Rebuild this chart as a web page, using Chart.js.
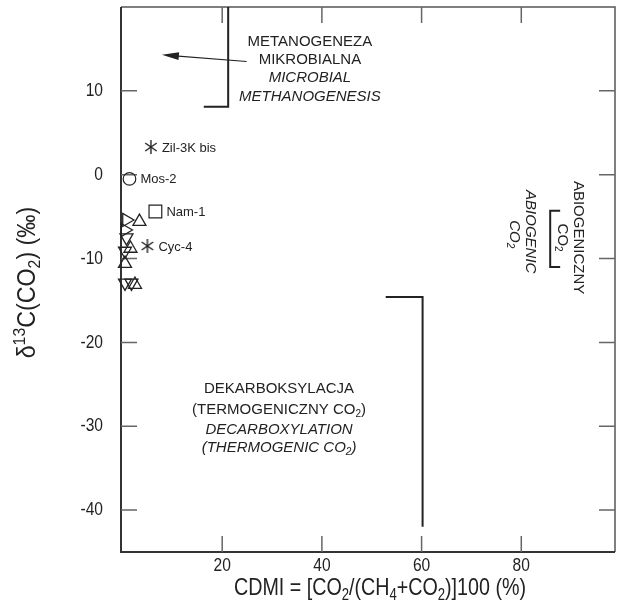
<!DOCTYPE html>
<html>
<head>
<meta charset="utf-8">
<script src="https://cdn.jsdelivr.net/npm/chart.js@4.4.1/dist/chart.umd.min.js"></script>
<style>
  html, body { margin: 0; padding: 0; background: #fff; }
  canvas { display: block; }
</style>
</head>
<body>
<canvas id="cdmiChart" width="618" height="605"></canvas>
<script>
// axis ranges and tick labels
const xRange = [-0.3, 98.8];
const yRange = [-45, 20];
const xTicks = [20, 40, 60, 80];
const yTicks = [10, 0, -10, -20, -30, -40];

// labelled samples
const sampleNames = ['Zil-3K bis', 'Mos-2', 'Nam-1', 'Cyc-4'];
const sampleX = [5.7, 1.4, 6.6, 5.0];
const sampleY = [3.3, -0.5, -4.4, -8.5];
const sampleMarker = ['asterisk', 'circle', 'rect', 'asterisk'];

// unlabelled triangles (rotation: 0 up, 90 right, 180 down)
const triX = [0.8, 3.4, 0.5, 0.8, 1.6, 0.5, 0.5, 0.5, 1.8, 2.5];
const triY = [-5.4, -5.6, -6.6, -7.5, -8.8, -9.1, -10.6, -12.9, -12.9, -13.1];
const triTurn = [90, 0, 90, 180, 0, 180, 0, 180, 180, 0];

// field boundaries (data units)
const microbialBracket = [[21.2, 20], [21.2, 8.1], [16.3, 8.1]];
const decarbBracket = [[52.8, -14.6], [60.2, -14.6], [60.2, -42.0]];
const abioBracket = [[87.8, -4.3], [85.8, -4.3], [85.8, -11.0], [87.8, -11.0]];
const microbialArrow = [[24.9, 13.5], [7.9, 14.3]];

const INK = '#222';
const SANS = '"Liberation Sans", Arial, sans-serif';
const NARROW = 0.82; // horizontal squeeze used for axis text

function makeAsterisk(r) {
  const c = document.createElement('canvas');
  c.width = c.height = 2 * r + 2;
  const g = c.getContext('2d');
  g.strokeStyle = INK;
  g.lineWidth = 1.4;
  g.translate(r + 1, r + 1);
  [90, 35, 145].forEach(a => {
    const t = a * Math.PI / 180;
    g.beginPath();
    g.moveTo(-r * Math.cos(t), -r * Math.sin(t));
    g.lineTo(r * Math.cos(t), r * Math.sin(t));
    g.stroke();
  });
  return c;
}
const asterisk = makeAsterisk(7);

// text made of [string, kind] pieces, kind = '', 'sub' or 'sup'; sx squeezes horizontally
function richText(ctx, segs, x, y, size, style, align, sx = 1) {
  const fontFor = k => `${style} ${k ? Math.round(size * 0.68) : size}px ${SANS}`;
  let w = 0;
  segs.forEach(([t, k]) => { ctx.font = fontFor(k); w += ctx.measureText(t).width; });
  ctx.save();
  ctx.translate(x, y);
  ctx.scale(sx, 1);
  let cx = align === 'center' ? -w / 2 : (align === 'right' ? -w : 0);
  ctx.textAlign = 'left';
  ctx.textBaseline = 'middle';
  segs.forEach(([t, k]) => {
    ctx.font = fontFor(k);
    const dy = k === 'sub' ? size * 0.3 : (k === 'sup' ? -size * 0.32 : 0);
    ctx.fillText(t, cx, dy);
    cx += ctx.measureText(t).width;
  });
  ctx.restore();
}

const overlay = {
  id: 'overlay',
  beforeDatasetsDraw(chart) {
    const { ctx, chartArea: a, scales: { x, y } } = chart;
    ctx.save();
    // frame
    ctx.strokeStyle = '#555';
    ctx.lineWidth = 1.5;
    ctx.beginPath();
    ctx.moveTo(a.left, a.top); ctx.lineTo(a.right, a.top); ctx.lineTo(a.right, a.bottom);
    ctx.stroke();
    ctx.strokeStyle = '#333';
    ctx.lineWidth = 2;
    ctx.beginPath();
    ctx.moveTo(a.left, a.top); ctx.lineTo(a.left, a.bottom); ctx.lineTo(a.right, a.bottom);
    ctx.stroke();
    // inward ticks on all four sides
    ctx.strokeStyle = '#666';
    ctx.lineWidth = 1.5;
    ctx.beginPath();
    xTicks.forEach(v => {
      const px = x.getPixelForValue(v);
      ctx.moveTo(px, a.bottom); ctx.lineTo(px, a.bottom - 16);
      ctx.moveTo(px, a.top); ctx.lineTo(px, a.top + 16);
    });
    yTicks.forEach(v => {
      const py = y.getPixelForValue(v);
      ctx.moveTo(a.left, py); ctx.lineTo(a.left + 16, py);
      ctx.moveTo(a.right, py); ctx.lineTo(a.right - 16, py);
    });
    ctx.stroke();

    // tick labels
    ctx.fillStyle = INK;
    xTicks.forEach(v => richText(ctx, [[String(v), '']], x.getPixelForValue(v), a.bottom + 14, 19, 'normal', 'center', NARROW));
    yTicks.forEach(v => richText(ctx, [[String(v), '']], a.left - 18, y.getPixelForValue(v), 19, 'normal', 'right', NARROW));
    ctx.restore();
  },
  afterDatasetsDraw(chart) {
    const { ctx, chartArea: a, scales: { x, y } } = chart;
    const P = (dx, dy) => [x.getPixelForValue(dx), y.getPixelForValue(dy)];
    ctx.save();
    ctx.fillStyle = INK;

    // sample labels
    sampleNames.forEach((n, i) => {
      const [px, py] = P(sampleX[i], sampleY[i]);
      richText(ctx, [[n, '']], px + 11, py + 1, 13, 'normal', 'left');
    });

    // brackets
    ctx.strokeStyle = INK;
    ctx.lineWidth = 2;
    [microbialBracket, decarbBracket, abioBracket].forEach(b => {
      ctx.beginPath();
      b.forEach((p, i) => {
        const [px, py] = P(p[0], p[1]);
        i ? ctx.lineTo(px, py) : ctx.moveTo(px, py);
      });
      ctx.stroke();
    });

    // arrow to microbial field
    const [tx, ty] = P(...microbialArrow[0]);
    const [hx, hy] = P(...microbialArrow[1]);
    ctx.lineWidth = 1.2;
    ctx.beginPath(); ctx.moveTo(tx, ty); ctx.lineTo(hx + 10, hy + 0.8); ctx.stroke();
    const ang = Math.atan2(hy - ty, hx - tx);
    ctx.beginPath();
    ctx.moveTo(hx, hy);
    ctx.lineTo(hx - 17 * Math.cos(ang) + 4 * Math.sin(ang), hy - 17 * Math.sin(ang) - 4 * Math.cos(ang));
    ctx.lineTo(hx - 17 * Math.cos(ang) - 4 * Math.sin(ang), hy - 17 * Math.sin(ang) + 4 * Math.cos(ang));
    ctx.closePath(); ctx.fill();

    // field names
    const block = (lines, cx, ys) => lines.forEach((l, i) => {
      const [px, py] = P(cx, ys[i]);
      richText(ctx, l[0], px, py, 15, l[1], 'center');
    });
    block([
      [[['METANOGENEZA', '']], 'normal'],
      [[['MIKROBIALNA', '']], 'normal'],
      [[['MICROBIAL', '']], 'italic'],
      [[['METHANOGENESIS', '']], 'italic']
    ], 37.6, [15.9, 13.7, 11.5, 9.3]);
    block([
      [[['DEKARBOKSYLACJA', '']], 'normal'],
      [[['(TERMOGENICZNY CO', ''], ['2', 'sub'], [')', '']], 'normal'],
      [[['DECARBOXYLATION', '']], 'italic'],
      [[['(THERMOGENIC CO', ''], ['2', 'sub'], [')', '']], 'italic']
    ], 31.4, [-25.6, -28.0, -30.4, -32.6]);

    // rotated abiogenic labels
    const vert = (segs, dx, dy, style) => {
      const [px, py] = P(dx, dy);
      ctx.save();
      ctx.translate(px, py);
      ctx.rotate(Math.PI / 2);
      richText(ctx, segs, 0, 0, 15, style, 'center');
      ctx.restore();
    };
    vert([['ABIOGENICZNY', '']], 91.4, -7.5, 'normal');
    vert([['CO', ''], ['2', 'sub']], 88.2, -7.5, 'normal');
    vert([['ABIOGENIC', '']], 81.7, -6.8, 'italic');
    vert([['CO', ''], ['2', 'sub']], 78.5, -7.1, 'italic');

    // axis titles
    const cx = (a.left + a.right) / 2, cy = (a.top + a.bottom) / 2;
    richText(ctx, [['CDMI = [CO', ''], ['2', 'sub'], ['/(CH', ''], ['4', 'sub'], ['+CO', ''], ['2', 'sub'], [')]100 (%)', '']],
      cx + 12, 588, 24, 'normal', 'center', NARROW);
    ctx.save();
    ctx.translate(28, cy + 3);
    ctx.rotate(-Math.PI / 2);
    richText(ctx, [['δ', ''], ['13', 'sup'], ['C(CO', ''], ['2', 'sub'], [') (‰)', '']], 0, 0, 25, 'normal', 'center', 0.93);
    ctx.restore();
    ctx.restore();
  }
};

const noPad = s => { s.paddingTop = 0; s.paddingBottom = 0; s.paddingLeft = 0; s.paddingRight = 0; };

new Chart(document.getElementById('cdmiChart'), {
  type: 'scatter',
  data: {
    datasets: [
      {
        label: 'samples',
        data: sampleX.map((v, i) => ({ x: v, y: sampleY[i] })),
        pointStyle: sampleMarker.map(m => m === 'asterisk' ? asterisk : m),
        pointRadius: sampleMarker.map(m => m === 'rect' ? 9 : 6.3),
        backgroundColor: 'rgba(0,0,0,0)',
        borderColor: INK,
        borderWidth: 1.2
      },
      {
        label: 'other',
        data: triX.map((v, i) => ({ x: v, y: triY[i] })),
        pointStyle: 'triangle',
        pointRotation: triTurn,
        pointRadius: 7.5,
        backgroundColor: 'rgba(0,0,0,0)',
        borderColor: INK,
        borderWidth: 1.3
      }
    ]
  },
  options: {
    responsive: false,
    animation: false,
    events: [],
    clip: false,
    layout: { autoPadding: false, padding: { top: 7, right: 3, left: 0, bottom: 0 } },
    plugins: { legend: { display: false }, tooltip: { enabled: false } },
    scales: {
      x: {
        type: 'linear',
        min: xRange[0],
        max: xRange[1],
        afterBuildTicks: s => { s.ticks = xTicks.map(v => ({ value: v })); },
        afterFit: s => { s.height = 53; noPad(s); },
        grid: { display: false, drawTicks: false },
        border: { display: false },
        ticks: { display: false }
      },
      y: {
        type: 'linear',
        min: yRange[0],
        max: yRange[1],
        afterBuildTicks: s => { s.ticks = yTicks.map(v => ({ value: v })); },
        afterFit: s => { s.width = 121; noPad(s); },
        grid: { display: false, drawTicks: false },
        border: { display: false },
        ticks: { display: false }
      }
    }
  },
  plugins: [overlay]
});
</script>
</body>
</html>
